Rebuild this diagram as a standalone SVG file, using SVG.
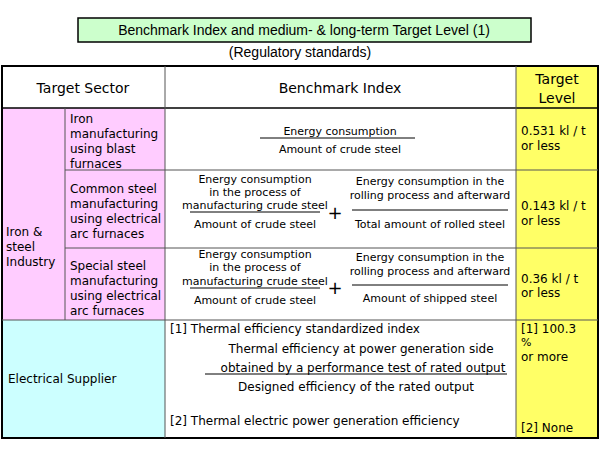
<svg xmlns="http://www.w3.org/2000/svg" width="600" height="450" viewBox="0 0 600 450">
<style>
text{font-family:"DejaVu Sans",Verdana,sans-serif;font-size:12px;fill:#000}
.h{font-size:14px}
.s{font-size:11px}
.c{text-anchor:middle}
.g{stroke:#555;stroke-width:1;fill:none}
.f{stroke:#000;stroke-width:1}
</style>
<rect width="600" height="450" fill="#fff"/>
<g id="title">
<rect x="78" y="18" width="453" height="24" fill="#ccffcc" stroke="#000" stroke-width="1.5"/>
<text class="c" x="304" y="35" style="font-size:14px;font-family:'Liberation Sans',Arial,sans-serif">Benchmark Index and medium- &amp; long-term Target Level (1)</text>
<text class="c" x="300" y="57" style="font-size:14px;font-family:'Liberation Sans',Arial,sans-serif">(Regulatory standards)</text>
</g>
<g id="cells">
<rect x="2" y="108" width="163" height="212" fill="#ffccff"/>
<rect x="2" y="320" width="163" height="118" fill="#ccffff"/>
<rect x="516" y="66" width="82" height="372" fill="#ffff66"/>
</g>
<g id="grid" class="g">
<rect x="2" y="66" width="596" height="372" stroke="#000" stroke-width="2"/>
<line x1="2" y1="108" x2="598" y2="108" stroke="#000" stroke-width="1.5"/>
<line x1="65" y1="170" x2="598" y2="170"/>
<line x1="65" y1="248" x2="598" y2="248"/>
<line x1="2" y1="320" x2="598" y2="320"/>
<line x1="65" y1="108" x2="65" y2="320"/>
<line x1="165" y1="66" x2="165" y2="438"/>
<line x1="516" y1="66" x2="516" y2="438"/>
</g>
<g id="header">
<text class="h c" x="83" y="93">Target Sector</text>
<text class="h c" x="340" y="93">Benchmark Index</text>
<text class="h c" x="557" y="84">Target</text>
<text class="h c" x="557" y="103">Level</text>
</g>
<g id="sectors">
<text x="6" y="236">Iron &amp;</text><text x="6" y="251">steel</text><text x="6" y="266">Industry</text>
<text x="70" y="123">Iron</text><text x="70" y="138">manufacturing</text><text x="70" y="153">using blast</text><text x="70" y="168">furnaces</text>
<text x="70" y="193">Common steel</text><text x="70" y="208">manufacturing</text><text x="70" y="223">using electrical</text><text x="70" y="238">arc furnaces</text>
<text x="70" y="270">Special steel</text><text x="70" y="285">manufacturing</text><text x="70" y="300">using electrical</text><text x="70" y="315">arc furnaces</text>
<text x="8" y="383">Electrical Supplier</text>
</g>
<g id="formulas">
<line class="f" x1="260" y1="138" x2="415" y2="138"/>
<text class="s c" x="340" y="135">Energy consumption</text>
<text class="s c" x="340" y="153">Amount of crude steel</text>

<text class="s c" x="255" y="183">Energy consumption</text>
<text class="s c" x="255" y="196">in the process of</text>
<text class="s c" x="255" y="209">manufacturing crude steel</text>
<line class="f" x1="190" y1="212" x2="320" y2="212"/>
<text class="s c" x="255" y="228">Amount of crude steel</text>
<text class="c" x="335" y="219" style="font-size:18px">+</text>
<text class="s c" x="430" y="185">Energy consumption in the</text>
<text class="s c" x="430" y="199">rolling process and afterward</text>
<line class="f" x1="352" y1="210" x2="508" y2="210"/>
<text class="s c" x="430" y="228">Total amount of rolled steel</text>

<text class="s c" x="255" y="258">Energy consumption</text>
<text class="s c" x="255" y="271">in the process of</text>
<text class="s c" x="255" y="285">manufacturing crude steel</text>
<line class="f" x1="190" y1="288" x2="320" y2="288"/>
<text class="s c" x="255" y="304">Amount of crude steel</text>
<text class="c" x="335" y="294" style="font-size:18px">+</text>
<text class="s c" x="430" y="261">Energy consumption in the</text>
<text class="s c" x="430" y="275">rolling process and afterward</text>
<line class="f" x1="352" y1="285" x2="508" y2="285"/>
<text class="s c" x="430" y="302">Amount of shipped steel</text>

<text x="170" y="333">[1] Thermal efficiency standardized index</text>
<text class="c" x="361" y="353">Thermal efficiency at power generation side</text>
<text class="c" x="363" y="372">obtained by a performance test of rated output</text>
<line class="f" x1="205" y1="374" x2="507" y2="374"/>
<text class="c" x="356" y="391">Designed efficiency of the rated output</text>
<text x="170" y="425">[2] Thermal electric power generation efficiency</text>
</g>
<g id="targets">
<text x="521" y="135">0.531 kl / t</text><text x="521" y="150">or less</text>
<text x="521" y="210">0.143 kl / t</text><text x="521" y="225">or less</text>
<text x="521" y="283">0.36 kl / t</text><text x="521" y="297">or less</text>
<text x="521" y="333">[1] 100.3</text><text x="521" y="346" class="s">%</text><text x="521" y="361">or more</text>
<text x="521" y="432">[2] None</text>
</g>
</svg>
